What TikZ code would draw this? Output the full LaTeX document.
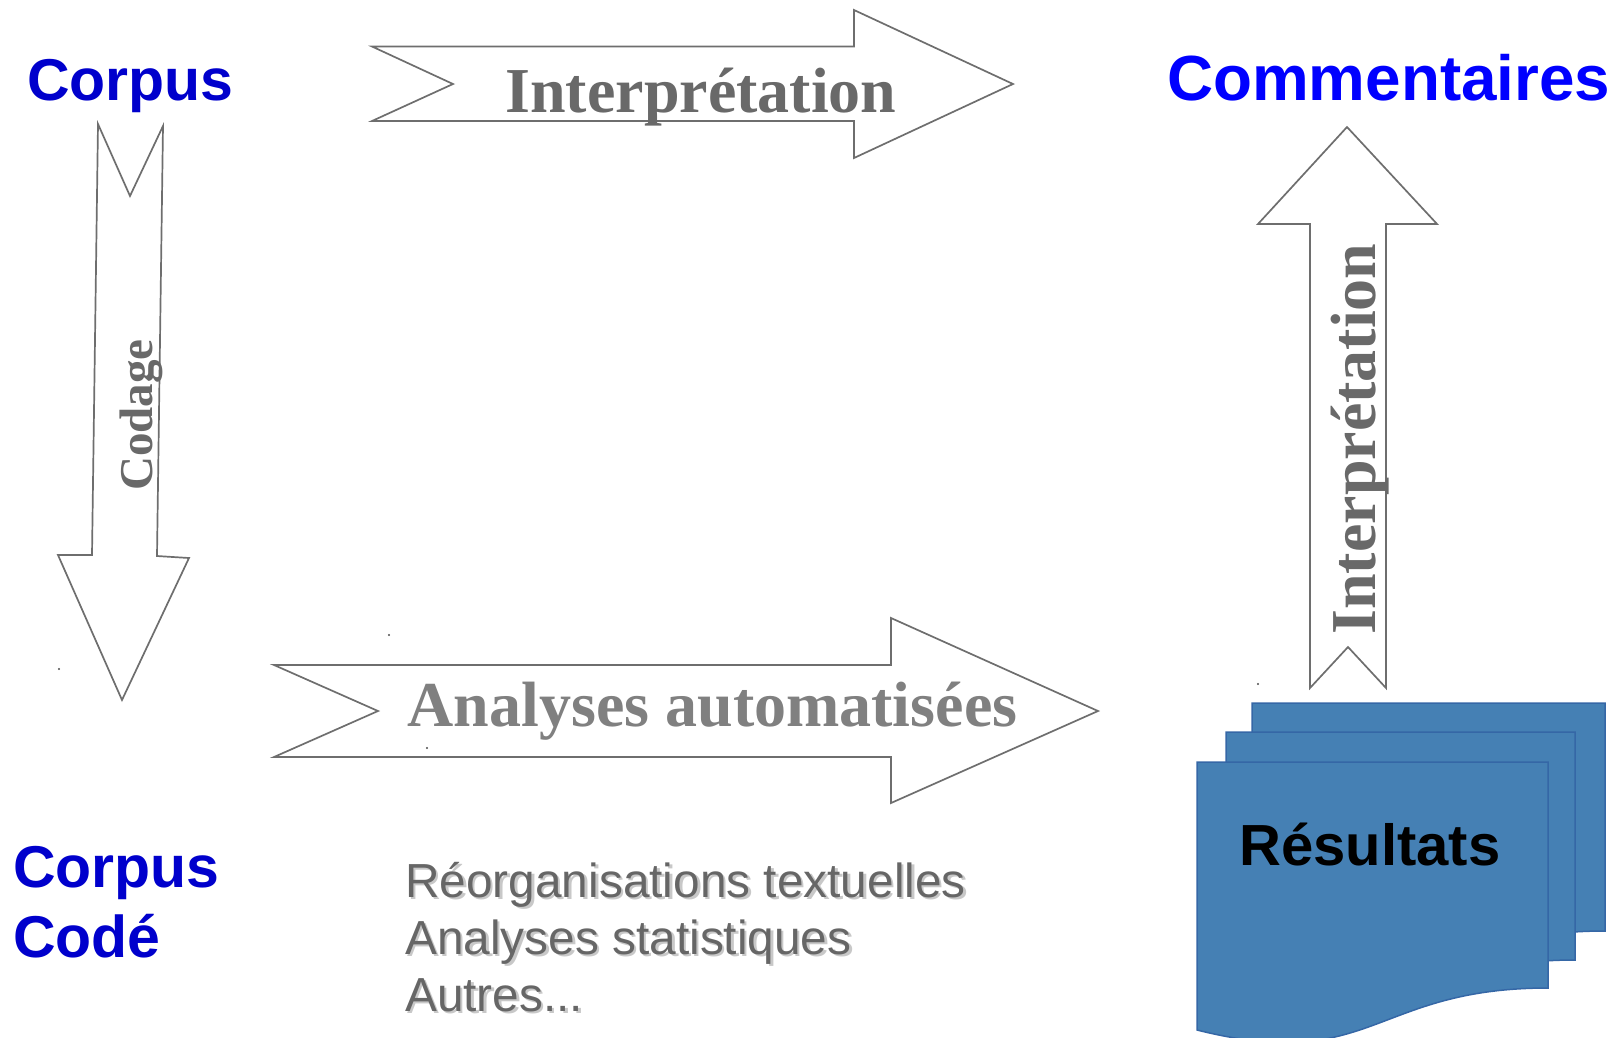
\documentclass[tikz,border=0pt]{standalone}
\usepackage{fontspec}
\setmainfont{Liberation Serif}
\newfontfamily\arialfont{Liberation Sans}
\definecolor{corpusblue}{HTML}{0000CC}
\definecolor{commblue}{HTML}{0000FF}
\definecolor{arrowgray}{HTML}{6E6E6E}
\definecolor{labelgray}{HTML}{696969}
\definecolor{analgray}{HTML}{808080}
\definecolor{listgray}{HTML}{666666}
\definecolor{shadowgray}{HTML}{C8C8C8}
\definecolor{docfill}{HTML}{4580B4}
\definecolor{docline}{HTML}{3567A6}
\begin{document}
\begin{tikzpicture}[x=1pt,y=-1pt,
  blockarrow/.style={draw=arrowgray, line width=1.7pt, fill=white, line join=miter},
  bluelabel/.style={inner sep=0pt, anchor=base west, font=\arialfont\bfseries\fontsize{59}{59}\selectfont},
  arrowlabel/.style={inner sep=0pt, anchor=base, font=\bfseries\fontsize{64}{64}\selectfont},
  listtext/.style={inner sep=0pt, anchor=base west, text=listgray, font=\arialfont\fontsize{47.8}{47.8}\selectfont},
  listshadow/.style={listtext, text=shadowgray},
  docpage/.style={fill=docfill, draw=docline, line width=1.5pt, line join=miter},
  speck/.style={fill=black!70}
]
\useasboundingbox (0,0) rectangle (1621,1037);
\clip (0,0) rectangle (1621,1037);

% titles
\node[bluelabel, text=corpusblue] (corpus) at (27,100) {Corpus};
\node[bluelabel, text=commblue, font=\arialfont\bfseries\fontsize{63.8}{63.8}\selectfont] (comm) at (1167,100) {Commentaires};
\node[bluelabel, text=corpusblue] (cc1) at (13,887) {Corpus};
\node[bluelabel, text=corpusblue] (cc2) at (13,957) {Codé};

% Codage arrow (down)
\draw[blockarrow] (98,124) -- (130,196) -- (163,126) -- (157,556) -- (189,558)
  -- (122,700) -- (58,555) -- (92,555) -- cycle;
\node[arrowlabel, rotate=90, text=labelgray, font=\bfseries\fontsize{47}{47}\selectfont] (codage) at (152,415) {Codage};

% top Interpretation arrow
\draw[blockarrow] (372,46.5) -- (854,46.5) -- (854,10) -- (1013,84) -- (854,158)
  -- (854,121) -- (372,121) -- (453,84) -- cycle;
\node[arrowlabel, text=labelgray] (interp1) at (701,112) {Interprétation};

% Analyses automatisees arrow
\draw[blockarrow] (274,665) -- (891,665) -- (891,618) -- (1098,711) -- (891,803)
  -- (891,757) -- (274,757) -- (378,711) -- cycle;
\node[arrowlabel, text=analgray] (analyses) at (712.5,726) {Analyses automatisées};

% vertical Interpretation arrow (up)
\draw[blockarrow] (1347,127) -- (1437,224) -- (1386,224) -- (1386,688) -- (1348,647)
  -- (1310,688) -- (1310,224) -- (1258,224) -- cycle;
\node[arrowlabel, rotate=90, text=labelgray] (interp2) at (1375,439) {Interprétation};

% list of analyses (with soft shadow)
\node[listshadow] (s1) at (407.5,899.5) {Réorganisations textuelles};
\node[listshadow] (s2) at (407.5,956.5) {Analyses statistiques};
\node[listshadow] (s3) at (407.5,1013.5) {Autres...};
\node[listtext] (l1) at (405,897) {Réorganisations textuelles};
\node[listtext] (l2) at (405,954) {Analyses statistiques};
\node[listtext] (l3) at (405,1011) {Autres...};

% multi-document Resultats
\draw[docpage] (1252,703) -- (1605,703) -- (1605,931)
  .. controls (1428.5,931) and (1428.5,1017.5) .. (1252,968) -- cycle;
\draw[docpage] (1226,732) -- (1575,732) -- (1575,960)
  .. controls (1400.5,960) and (1400.5,1046.5) .. (1226,997) -- cycle;
\draw[docpage] (1197,762) -- (1548,762) -- (1548,988)
  .. controls (1372.5,988) and (1372.5,1074) .. (1197,1030) -- cycle;
\node[inner sep=0pt, anchor=base west, text=black, font=\arialfont\bfseries\fontsize{58}{58}\selectfont] (res) at (1239,865) {Résultats};

% small specks
\fill[speck] (59,669) circle (1.2);
\fill[speck] (389,635) circle (1.2);
\fill[speck] (427,748) circle (1.2);
\fill[speck] (1258,684) circle (1.2);
\end{tikzpicture}
\end{document}
